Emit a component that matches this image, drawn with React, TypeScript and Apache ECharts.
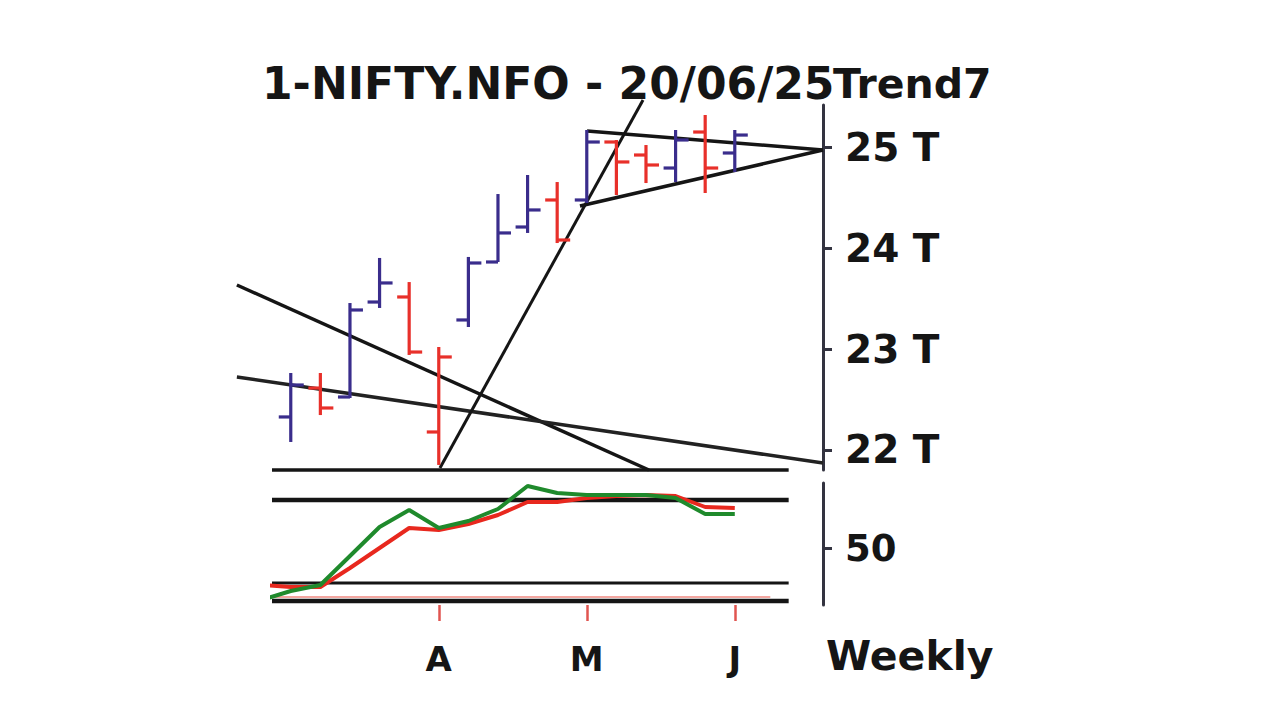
import React, { useEffect, useRef } from "react";
import * as echarts from "echarts";

// ---------- texts ----------
const TITLE = "1-NIFTY.NFO - 20/06/25";
const STUDY = "Trend7";
const PERIOD = "Weekly";

// ---------- weekly OHLC bars (index 0..15) ----------
const weekIndex = [0, 1, 2, 3, 4, 5, 6, 7, 8, 9, 10, 11, 12, 13, 14, 15];
const opens = [22326, 22613, 22524, 23466, 23516, 22177, 23288, 23863, 24210, 24478, 24478, 25053, 24924, 24795, 25152, 24944];
const closes = [22643, 22415, 23387, 23655, 22970, 22921, 23853, 24151, 24379, 24081, 25053, 24855, 24825, 25073, 24795, 25122];
const lows = [22078, 22345, 22514, 23407, 22941, 21850, 23218, 23863, 24151, 24051, 24448, 24527, 24646, 24656, 24547, 24755];
const highs = [22762, 22762, 23456, 23903, 23664, 23020, 23913, 24537, 24726, 24656, 25172, 25073, 25023, 25172, 25321, 25172];

// ---------- axis ticks ----------
const priceTicks = [22000, 23000, 24000, 25000];
const priceTickLabels = ["22 T", "23 T", "24 T", "25 T"];
const oscTicks = [50];
const oscTickLabels = ["50"];
const monthTickIndex = [5, 10, 15];
const monthLabels = ["A", "M", "J"];

// ---------- oscillator (lower pane) ----------
const oscIndex = [-1, 0, 1, 2, 3, 4, 5, 6, 7, 8, 9, 10, 11, 12, 13, 14, 15];
const redOsc = [31.5, 30.5, 30.5, 40, 50, 60, 59, 62, 66.5, 73, 73, 75, 76, 76.5, 76, 70.5, 70];
const greenOsc = [24, 28.5, 31.5, 46, 60.5, 69, 60, 63.5, 69.5, 81, 77.5, 76.5, 76.5, 76.5, 75, 67, 67];

// ---------- trend lines (upper pane, [index, price]) ----------
const trendA = [[-1.82, 23635], [12.1, 21800]];
const trendB = [[-1.82, 22722], [17.98, 21869]];
const trendC = [[5.04, 21820], [11.9, 25470]];
const trendD = [[10.01, 25162], [17.98, 24974]];
const trendE = [[9.77, 24418], [17.98, 24974]];
const upperBase = [[-0.634, 21800], [16.82, 21800]];

// ---------- lower pane level lines ----------
const lowerLevelThick = [74, 23.5];
const lowerLevelThin = [32.5];
const lowerLevelPink = [25.5];
const levelStart = -0.634;
const levelEnd = 16.82;

const BLUE = "#3a2d8c";
const RED = "#e8302a";
const INK = "#151515";
const FONT = "DejaVu Sans";

export default function App() {
  const ref = useRef<HTMLDivElement>(null);

  useEffect(() => {
    if (!ref.current) return;
    const chart = echarts.init(ref.current, null, { renderer: "svg" });

    const barData = weekIndex.map((i, k) => [
      i,
      opens[k],
      closes[k],
      lows[k],
      highs[k],
      k === 0 || closes[k] >= closes[k - 1] ? 1 : 0,
    ]);

    const lineSeries = (data: number[][], width: number, color: string, grid: number, z = 3) => ({
      type: "line",
      xAxisIndex: grid,
      yAxisIndex: grid,
      data,
      symbol: "none",
      silent: true,
      clip: false,
      z,
      lineStyle: { color, width, cap: "butt" },
    });

    const levelLines: any[] = [];
    lowerLevelThick.forEach((v) =>
      levelLines.push(lineSeries([[levelStart, v], [levelEnd, v]], 4.5, INK, 1, 2))
    );
    lowerLevelThin.forEach((v) =>
      levelLines.push(lineSeries([[levelStart, v], [levelEnd, v]], 3, INK, 1, 2))
    );
    lowerLevelPink.forEach((v) =>
      levelLines.push(lineSeries([[levelStart, v], [16.2, v]], 2, "#f3a6a0", 1, 2))
    );

    const option: any = {
      animation: false,
      backgroundColor: "#ffffff",
      grid: [
        { left: 236, width: 587, top: 105, height: 365 },
        { left: 272, width: 551, top: 483, height: 122 },
      ],
      xAxis: [
        { gridIndex: 0, type: "value", min: -1.85, max: 17.98, show: false },
        {
          gridIndex: 1,
          type: "value",
          min: -0.634,
          max: 17.98,
          axisLine: { show: false, onZero: false },
          splitLine: { show: false },
          axisTick: {
            show: true,
            customValues: monthTickIndex,
            length: 16,
            lineStyle: { color: "#e05550", width: 2.5 },
          },
          axisLabel: {
            show: true,
            customValues: monthTickIndex,
            formatter: (v: number) => monthLabels[monthTickIndex.indexOf(v)] ?? "",
            margin: 37,
            fontFamily: FONT,
            fontWeight: "bold",
            fontSize: 34,
            color: INK,
          },
        },
      ],
      yAxis: [
        {
          gridIndex: 0,
          type: "value",
          position: "right",
          min: 21800,
          max: 25420,
          splitLine: { show: false },
          axisLine: { show: true, onZero: false, lineStyle: { color: "#333340", width: 3 } },
          axisTick: {
            show: true,
            customValues: priceTicks,
            length: 9,
            lineStyle: { color: "#333340", width: 3 },
          },
          axisLabel: {
            show: true,
            customValues: priceTicks,
            formatter: (v: number) => priceTickLabels[priceTicks.indexOf(v)] ?? "",
            margin: 22,
            padding: [12, 0, 0, 0],
            fontFamily: FONT,
            fontWeight: "bold",
            fontSize: 39,
            color: INK,
          },
        },
        {
          gridIndex: 1,
          type: "value",
          position: "right",
          min: 21.5,
          max: 82.5,
          splitLine: { show: false },
          axisLine: { show: true, onZero: false, lineStyle: { color: "#333340", width: 3 } },
          axisTick: {
            show: true,
            customValues: oscTicks,
            length: 9,
            lineStyle: { color: "#333340", width: 3 },
          },
          axisLabel: {
            show: true,
            customValues: oscTicks,
            formatter: (v: number) => oscTickLabels[oscTicks.indexOf(v)] ?? "",
            margin: 22,
            fontFamily: FONT,
            fontWeight: "bold",
            fontSize: 37,
            color: INK,
          },
        },
      ],
      graphic: [
        {
          type: "text",
          x: 262,
          y: 83,
          style: {
            text: TITLE,
            font: `bold 44px "${FONT}"`,
            fill: INK,
            textVerticalAlign: "middle",
            verticalAlign: "middle",
          },
        },
        {
          type: "text",
          x: 833,
          y: 84,
          style: {
            text: STUDY,
            font: `bold 41px "${FONT}"`,
            fill: INK,
            textVerticalAlign: "middle",
            verticalAlign: "middle",
          },
        },
        {
          type: "text",
          x: 826,
          y: 656,
          style: {
            text: PERIOD,
            font: `bold 41px "${FONT}"`,
            fill: INK,
            textVerticalAlign: "middle",
            verticalAlign: "middle",
          },
        },
      ],
      series: [
        lineSeries(upperBase, 3.5, INK, 0, 2),
        lineSeries(trendA, 3.5, INK, 0, 2),
        lineSeries(trendB, 3.5, "#222222", 0, 2),
        lineSeries(trendC, 3, INK, 0, 2),
        lineSeries(trendD, 3.5, INK, 0, 2),
        lineSeries(trendE, 3.5, INK, 0, 2),
        {
          type: "custom",
          xAxisIndex: 0,
          yAxisIndex: 0,
          data: barData,
          encode: { x: 0, y: [1, 2, 3, 4] },
          z: 5,
          silent: true,
          renderItem: (params: any, api: any) => {
            const i = api.value(0);
            const o = api.coord([i, api.value(1)]);
            const c = api.coord([i, api.value(2)]);
            const l = api.coord([i, api.value(3)]);
            const h = api.coord([i, api.value(4)]);
            const color = api.value(5) ? BLUE : RED;
            const style = { stroke: color, lineWidth: 3.2, fill: "none" };
            return {
              type: "group",
              children: [
                { type: "line", shape: { x1: h[0], y1: h[1], x2: l[0], y2: l[1] }, style },
                { type: "line", shape: { x1: o[0] - 12, y1: o[1], x2: o[0], y2: o[1] }, style },
                { type: "line", shape: { x1: c[0], y1: c[1], x2: c[0] + 13, y2: c[1] }, style },
              ],
            };
          },
        },
        ...levelLines,
        {
          type: "line",
          xAxisIndex: 1,
          yAxisIndex: 1,
          data: oscIndex.map((i, k) => [i, redOsc[k]]),
          symbol: "none",
          silent: true,
          z: 4,
          lineStyle: { color: "#e8281e", width: 4 },
        },
        {
          type: "line",
          xAxisIndex: 1,
          yAxisIndex: 1,
          data: oscIndex.map((i, k) => [i, greenOsc[k]]),
          symbol: "none",
          silent: true,
          z: 5,
          lineStyle: { color: "#1f8a2c", width: 4 },
        },
      ],
    };

    chart.setOption(option);
    return () => chart.dispose();
  }, []);

  return (
    <div
      ref={ref}
      style={{ position: "absolute", left: 0, top: 0, width: 1280, height: 720 }}
    />
  );
}
